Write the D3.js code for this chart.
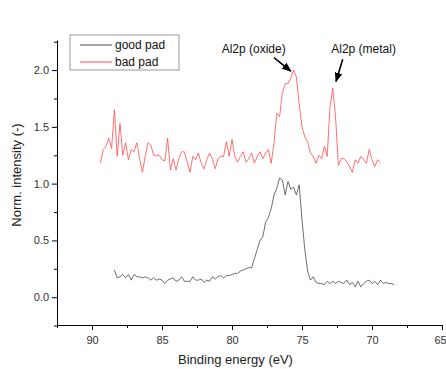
<!DOCTYPE html>
<html>
<head>
<meta charset="utf-8">
<script src="https://cdn.jsdelivr.net/npm/d3@7"></script>
<style>
  body { margin: 0; background: #fff; }
  svg { display: block; font-family: "Liberation Sans", Arial, sans-serif; }
</style>
</head>
<body>
<div id="chart"></div>
<script>
// binding energy grid (eV) and normalised intensity
var badEnergy = [89.4,89.2,89.0,88.8,88.6,88.4,88.2,88.0,87.8,87.6,87.4,87.2,87.0,86.8,86.6,86.4,86.2,86.0,85.8,85.6,
  85.4,85.2,85.0,84.8,84.6,84.4,84.2,84.0,83.8,83.6,83.4,83.2,83.0,82.8,82.6,82.4,82.2,82.0,81.8,81.6,
  81.4,81.2,81.0,80.8,80.6,80.4,80.2,80.0,79.8,79.6,79.4,79.2,79.0,78.8,78.6,78.4,78.2,78.0,77.8,77.6,
  77.4,77.2,77.0,76.8,76.6,76.4,76.2,76.0,75.8,75.6,75.4,75.2,75.0,74.8,74.6,74.4,74.2,74.0,73.8,73.6,
  73.4,73.2,73.0,72.8,72.6,72.4,72.2,72.0,71.8,71.6,71.4,71.2,71.0,70.8,70.6,70.4,70.2,70.0,69.8,69.6,69.4]
var badPad = [1.18,1.30,1.33,1.40,1.31,1.65,1.24,1.53,1.25,1.36,1.21,1.30,1.28,1.36,1.22,1.10,1.24,1.36,1.34,1.25,
  1.25,1.25,1.21,1.20,1.40,1.12,1.22,1.12,1.22,1.28,1.28,1.19,1.10,1.24,1.21,1.27,1.18,1.13,1.21,1.27,
  1.22,1.13,1.22,1.24,1.24,1.37,1.24,1.39,1.24,1.19,1.24,1.28,1.19,1.22,1.27,1.18,1.24,1.28,1.22,1.27,
  1.30,1.18,1.36,1.62,1.59,1.80,1.88,1.88,1.93,2.00,1.94,1.70,1.50,1.41,1.37,1.27,1.24,1.18,1.25,1.22,
  1.33,1.24,1.68,1.84,1.58,1.16,1.22,1.22,1.19,1.15,1.10,1.21,1.18,1.24,1.21,1.18,1.30,1.21,1.15,1.21,1.19]

var goodEnergy = [88.4,88.2,88.0,87.8,87.6,87.4,87.2,87.0,86.8,86.6,86.4,86.2,86.0,85.8,85.6,85.4,85.2,85.0,84.8,84.6,
  84.4,84.2,84.0,83.8,83.6,83.4,83.2,83.0,82.8,82.6,82.4,82.2,82.0,81.8,81.6,81.4,81.2,81.0,80.8,80.6,
  80.4,80.2,80.0,79.8,79.6,79.4,79.2,79.0,78.8,78.6,78.4,78.2,78.0,77.8,77.6,77.4,77.2,77.0,76.8,76.6,
  76.4,76.2,76.0,75.8,75.6,75.4,75.2,75.0,74.8,74.6,74.4,74.2,74.0,73.8,73.6,73.4,73.2,73.0,72.8,72.6,
  72.4,72.2,72.0,71.8,71.6,71.4,71.2,71.0,70.8,70.6,70.4,70.2,70.0,69.8,69.6,69.4,69.2,69.0,68.8,68.6,68.4]
var goodPad = [0.24,0.17,0.18,0.20,0.17,0.20,0.15,0.20,0.18,0.18,0.17,0.18,0.17,0.15,0.17,0.15,0.16,0.15,0.12,0.15,
  0.16,0.17,0.14,0.15,0.18,0.14,0.14,0.14,0.18,0.15,0.15,0.16,0.13,0.15,0.14,0.18,0.16,0.18,0.19,0.17,
  0.19,0.19,0.20,0.21,0.21,0.23,0.24,0.25,0.26,0.26,0.34,0.42,0.50,0.53,0.66,0.70,0.78,0.90,0.96,1.05,
  1.03,0.90,1.02,0.95,0.97,0.90,0.99,0.68,0.42,0.23,0.15,0.18,0.13,0.12,0.12,0.11,0.14,0.12,0.14,0.12,
  0.14,0.13,0.12,0.15,0.11,0.13,0.09,0.14,0.09,0.12,0.14,0.15,0.12,0.14,0.11,0.15,0.12,0.13,0.12,0.12,0.11]

var xTicks = [90, 85, 80, 75, 70, 65]
var xMinor = [92.5, 87.5, 82.5, 77.5, 72.5, 67.5]
var yTicks = [0, 0.5, 1.0, 1.5, 2.0]
var yMinor = [-0.25, 0.25, 0.75, 1.25, 1.75, 2.25]

var seriesNames = ["good pad", "bad pad"]
var seriesColors = ["#4a4a4a", "#ff4d4d"]

// peak labels and their arrows, in data units
var peakLabels = ["Al2p (oxide)", "Al2p (metal)"]
var peakLabelX = [78.45, 70.6]
var peakArrowFrom = [[77.0, 2.11], [72.09, 2.095]]
var peakArrowTo = [[75.8, 1.99], [72.57, 1.90]]

var width = 446
var height = 369

var svg = d3.select('#chart').append('svg')
  .attr('width', width)
  .attr('height', height)

var defs = svg.append('defs')
defs.append('marker')
  .attr('id', 'arrow')
  .attr('viewBox', '0 0 10 10')
  .attr('refX', 9).attr('refY', 5)
  .attr('markerWidth', 6).attr('markerHeight', 6)
  .attr('orient', 'auto')
  .append('path')
  .attr('d', 'M0,1 L10,5 L0,9 Z')
  .attr('fill', '#000')

var x = d3.scaleLinear()
  .domain([92.5, 65])
  .range([57, 442])

var y = d3.scaleLinear()
  .domain([-0.245, 2.265])
  .range([325, 40])

// y axis
var yAxis = svg.append('g')
  .attr('transform', 'translate(57,0)')
  .call(d3.axisLeft(y).tickValues(yTicks).tickFormat(d3.format('.1f')).tickSize(5).tickSizeOuter(0))
yAxis.selectAll('text').style('font-size', '11px').attr('fill', '#333')
svg.append('g')
  .attr('transform', 'translate(57,0)')
  .call(d3.axisLeft(y).tickValues(yMinor).tickFormat('').tickSize(3).tickSizeOuter(0))
  .select('.domain').remove()

// x axis
var xAxis = svg.append('g')
  .attr('transform', 'translate(0,325)')
  .call(d3.axisBottom(x).tickValues(xTicks).tickSize(5).tickSizeOuter(0))
xAxis.selectAll('text').style('font-size', '11px').attr('fill', '#333').attr('dy', '1em')
// last label sits at the window edge, nudge it in so it is not cut
xAxis.selectAll('.tick').filter(function(d) { return d === 65 }).select('text').attr('dx', -2)
svg.append('g')
  .attr('transform', 'translate(0,325)')
  .call(d3.axisBottom(x).tickValues(xMinor).tickFormat('').tickSize(3).tickSizeOuter(0))
  .select('.domain').remove()

svg.selectAll('.domain').attr('stroke', '#000')

svg.append('text')
  .attr('x', (x.range()[0] + x.range()[1]) / 2 - 14)
  .attr('y', 364)
  .attr('text-anchor', 'middle')
  .style('font-size', '13px')
  .attr('fill', '#222')
  .text('Binding energy (eV)')

svg.append('text')
  .attr('transform', 'translate(21,' + 175 + ') rotate(-90)')
  .attr('text-anchor', 'middle')
  .style('font-size', '13px')
  .attr('fill', '#222')
  .text('Norm. intensity (-)')

// lines
var line = d3.line()
  .x(function(d) { return x(d[0]) })
  .y(function(d) { return y(d[1]) })

var goodData = goodEnergy.map(function(e, i) { return [e, goodPad[i]] })
var badData = badEnergy.map(function(e, i) { return [e, badPad[i]] })

svg.append('path')
  .datum(goodData)
  .attr('d', line)
  .attr('fill', 'none')
  .attr('stroke', seriesColors[0])
  .attr('stroke-width', 0.8)

svg.append('path')
  .datum(badData)
  .attr('d', line)
  .attr('fill', 'none')
  .attr('stroke', seriesColors[1])
  .attr('stroke-width', 0.8)

// peak annotations
peakLabels.forEach(function(label, i) {
  svg.append('text')
    .attr('x', x(peakLabelX[i]))
    .attr('y', y(2.153))
    .attr('text-anchor', 'middle')
    .style('font-size', '12px')
    .attr('fill', '#111')
    .text(label)
  svg.append('line')
    .attr('x1', x(peakArrowFrom[i][0])).attr('y1', y(peakArrowFrom[i][1]))
    .attr('x2', x(peakArrowTo[i][0])).attr('y2', y(peakArrowTo[i][1]))
    .attr('stroke', '#000')
    .attr('stroke-width', 1.6)
    .attr('marker-end', 'url(#arrow)')
})

// legend
var legend = svg.append('g').attr('transform', 'translate(70,35)')
legend.append('rect')
  .attr('width', 109).attr('height', 35)
  .attr('fill', '#fff')
  .attr('stroke', '#999')
seriesNames.forEach(function(name, i) {
  var g = legend.append('g').attr('transform', 'translate(0,' + (10 + i * 17) + ')')
  g.append('line')
    .attr('x1', 10).attr('x2', 42)
    .attr('stroke', seriesColors[i])
  g.append('text')
    .attr('x', 45).attr('dy', 4)
    .style('font-size', '12px')
    .attr('fill', '#111')
    .text(name)
})
</script>
</body>
</html>
